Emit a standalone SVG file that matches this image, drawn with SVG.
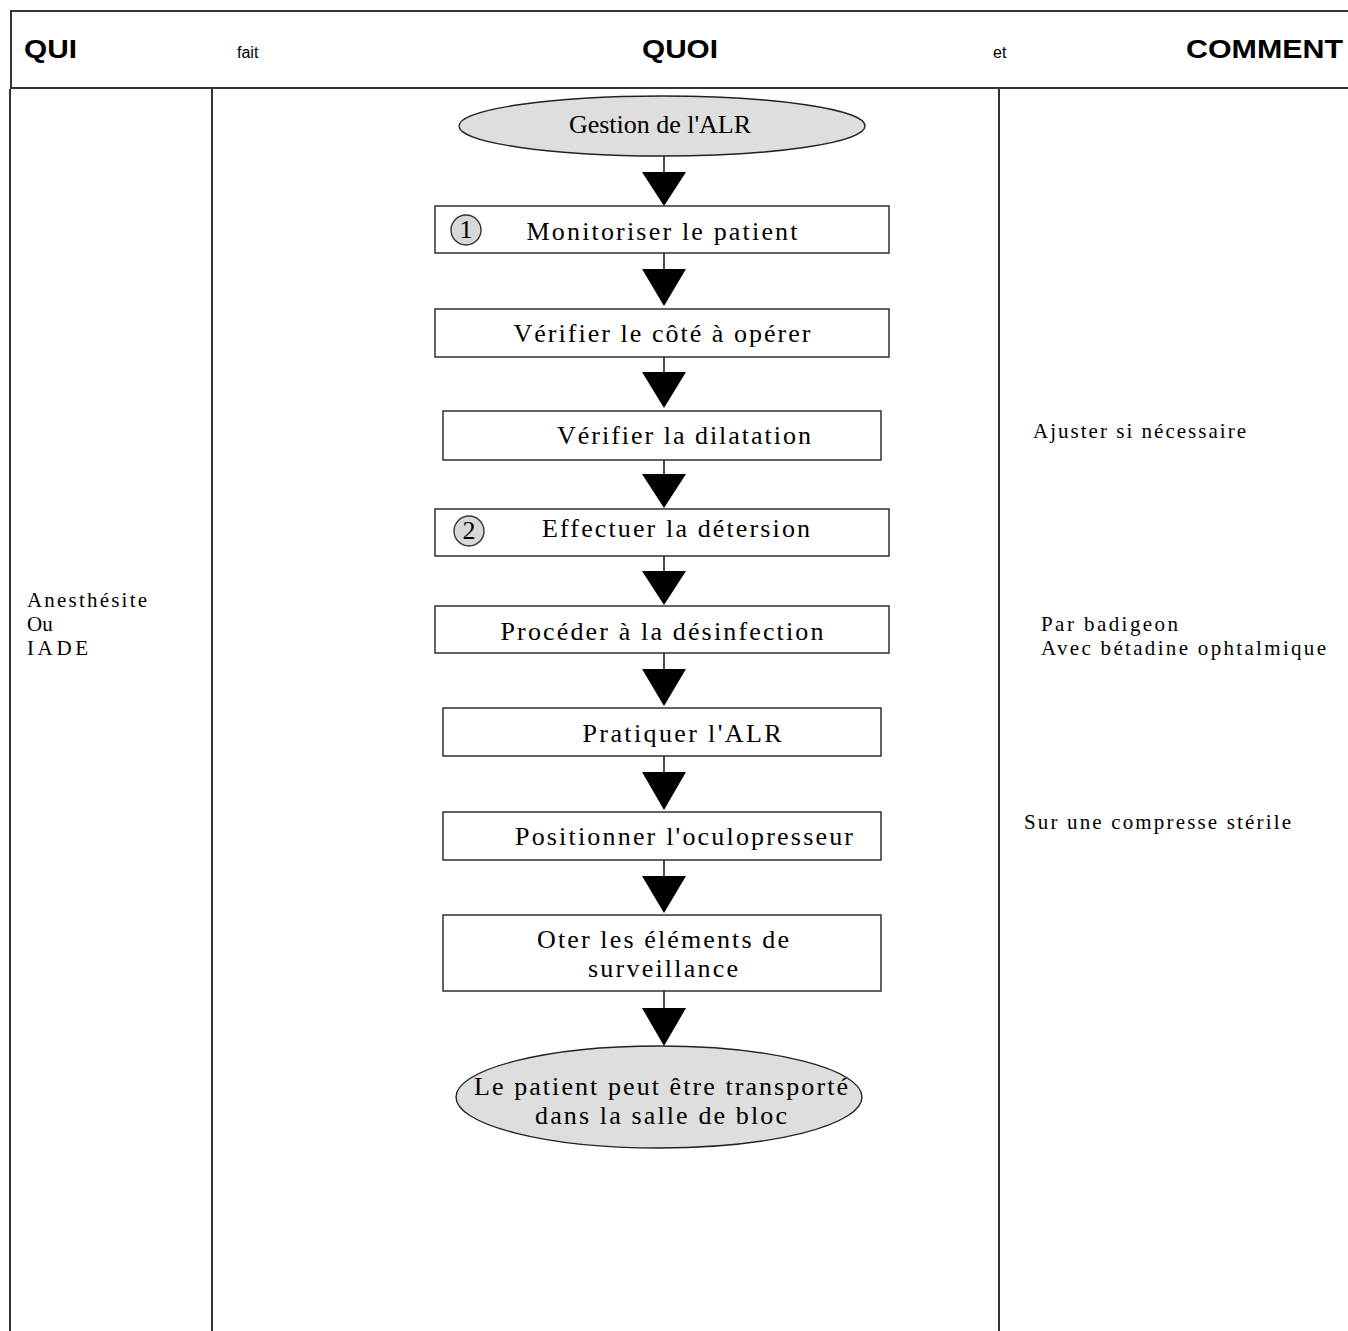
<svg xmlns="http://www.w3.org/2000/svg" width="1348" height="1331" viewBox="0 0 1348 1331">
<defs>
<style>
.frame{fill:none;stroke:#333;stroke-width:2}
.box{fill:#fff;stroke:#222;stroke-width:1.4}
.ell{fill:#dedede;stroke:#222;stroke-width:1.4}
.num{fill:#d8d8d8;stroke:#333;stroke-width:1.4}
.hd{font-family:"Liberation Sans",Arial,sans-serif;font-weight:bold;font-size:26px;fill:#000}
.sm{font-family:"Liberation Sans",Arial,sans-serif;font-size:16px;fill:#000}
.t{font-family:"Liberation Serif","Times New Roman",serif;font-size:26px;fill:#000;text-anchor:middle}
.s{font-family:"Liberation Serif","Times New Roman",serif;font-size:21px;fill:#000}
.ln{stroke:#000;stroke-width:1.4}
.tri{fill:#000}
</style>
</defs>
<g id="frame">
<path class="frame" d="M1348 11 H11 V88 H1348"/>
<line class="frame" x1="10" y1="89" x2="10" y2="1331"/>
<line class="frame" x1="212" y1="89" x2="212" y2="1331"/>
<line class="frame" x1="999" y1="89" x2="999" y2="1331"/>
<text class="hd" x="24" y="58" textLength="53" lengthAdjust="spacingAndGlyphs">QUI</text>
<text class="sm" x="237" y="58">fait</text>
<text class="hd" x="642" y="58" textLength="76" lengthAdjust="spacingAndGlyphs">QUOI</text>
<text class="sm" x="993" y="58">et</text>
<text class="hd" x="1186" y="58" textLength="157" lengthAdjust="spacingAndGlyphs">COMMENT</text>
</g>
<g id="connectors">
<line class="ln" x1="664" y1="156" x2="664" y2="172"/><polygon class="tri" points="642,172 686,172 664,206"/>
<line class="ln" x1="664" y1="253" x2="664" y2="269"/><polygon class="tri" points="642,269 686,269 664,306"/>
<line class="ln" x1="664" y1="357" x2="664" y2="372"/><polygon class="tri" points="642,372 686,372 664,408"/>
<line class="ln" x1="664" y1="460" x2="664" y2="474"/><polygon class="tri" points="642,474 686,474 664,508"/>
<line class="ln" x1="664" y1="556" x2="664" y2="571"/><polygon class="tri" points="642,571 686,571 664,605"/>
<line class="ln" x1="664" y1="653" x2="664" y2="669"/><polygon class="tri" points="642,669 686,669 664,706"/>
<line class="ln" x1="664" y1="756" x2="664" y2="772"/><polygon class="tri" points="642,772 686,772 664,810"/>
<line class="ln" x1="664" y1="860" x2="664" y2="876"/><polygon class="tri" points="642,876 686,876 664,913"/>
<line class="ln" x1="664" y1="991" x2="664" y2="1008"/><polygon class="tri" points="642,1008 686,1008 664,1046"/>
</g>
<g id="start">
<ellipse class="ell" cx="662" cy="126" rx="203" ry="30"/>
<text class="t" x="660" y="133" font-size="21" textLength="182">Gestion de l'ALR</text>
</g>
<g id="n1">
<rect class="box" x="435" y="206" width="454" height="47"/>
<circle class="num" cx="466" cy="230" r="15"/>
<text class="t" x="466" y="238" font-size="22">1</text>
<text class="t" x="662" y="240" textLength="271">Monitoriser le patient</text>
</g>
<g id="n2">
<rect class="box" x="435" y="309" width="454" height="48"/>
<text class="t" x="662" y="342" textLength="297">Vérifier le côté à opérer</text>
</g>
<g id="n3">
<rect class="box" x="443" y="411" width="438" height="49"/>
<text class="t" x="684" y="444" textLength="254">Vérifier la dilatation</text>
</g>
<g id="n4">
<rect class="box" x="435" y="509" width="454" height="47"/>
<circle class="num" cx="469" cy="531" r="15"/>
<text class="t" x="469" y="539" font-size="22">2</text>
<text class="t" x="676" y="537" textLength="268">Effectuer la détersion</text>
</g>
<g id="n5">
<rect class="box" x="435" y="606" width="454" height="47"/>
<text class="t" x="662" y="640" textLength="323">Procéder à la désinfection</text>
</g>
<g id="n6">
<rect class="box" x="443" y="708" width="438" height="48"/>
<text class="t" x="682" y="742" textLength="199">Pratiquer l'ALR</text>
</g>
<g id="n7">
<rect class="box" x="443" y="812" width="438" height="48"/>
<text class="t" x="684" y="845" textLength="338">Positionner l'oculopresseur</text>
</g>
<g id="n8">
<rect class="box" x="443" y="915" width="438" height="76"/>
<text class="t" x="663" y="948" textLength="252">Oter les éléments de</text>
<text class="t" x="663" y="977" textLength="150">surveillance</text>
</g>
<g id="end">
<ellipse class="ell" cx="659" cy="1097" rx="203" ry="51"/>
<text class="t" x="661" y="1095" textLength="374">Le patient peut être transporté</text>
<text class="t" x="661" y="1124" textLength="252">dans la salle de bloc</text>
</g>
<g id="qui">
<text class="s" x="27" y="607" textLength="120">Anesthésite</text>
<text class="s" x="27" y="631">Ou</text>
<text class="s" x="27" y="655" textLength="61">IADE</text>
</g>
<g id="comment">
<text class="s" x="1033" y="438" textLength="213">Ajuster si nécessaire</text>
<text class="s" x="1041" y="631" textLength="137">Par badigeon</text>
<text class="s" x="1041" y="655" textLength="285">Avec bétadine ophtalmique</text>
<text class="s" x="1024" y="829" textLength="267">Sur une compresse stérile</text>
</g>
</svg>
